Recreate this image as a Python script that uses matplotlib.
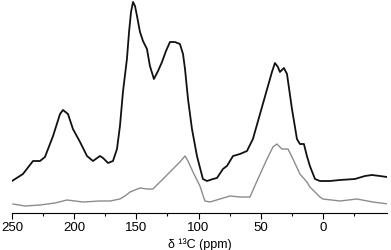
import numpy as np
import matplotlib
matplotlib.use("Agg")
import matplotlib.pyplot as plt

plt.rcParams['font.family'] = ['Liberation Sans', 'DejaVu Sans']

# chemical shift (ppm) and intensity (a.u.)
black_ppm = [250.0, 241.2, 233.1, 227.5, 223.5, 217.0, 211.4, 209.0, 205.0, 201.0,
             195.3, 189.7, 184.9, 179.3, 176.8, 172.8, 168.8, 165.6, 163.2, 160.8,
             157.6, 155.9, 154.3, 152.7, 151.1, 149.5, 147.1, 144.7, 141.5, 139.1,
             135.9, 132.6, 129.4,
             126.2, 123.0, 119.0, 115.0, 112.5, 110.9, 108.5, 105.3, 101.3, 96.5,
             93.2, 88.4, 85.2, 80.4, 77.2, 72.3, 66.7, 61.1, 56.3, 49.0,
             44.2, 41.0, 38.6, 36.2, 34.6, 31.4, 28.9, 24.9, 20.9, 18.5,
             15.3, 12.9, 10.5, 6.4, 2.4, -5.6, -13.7, -25.7, -33.8, -39.4,
             -45.8, -51.4]
black_int = [32, 39, 52, 52, 56, 77, 99, 103, 99, 84,
             71, 57, 52, 57, 55, 50, 52, 64, 87, 121,
             154, 181, 201, 211, 207, 197, 181, 172, 164, 147,
             134, 142, 151,
             162, 171, 171, 169, 159, 144, 114, 84, 57, 34,
             32, 34, 35, 44, 47, 57, 59, 62, 74, 106,
             127, 141, 150, 146, 141, 145, 139, 104, 74, 69,
             69, 57, 47, 34, 32, 32, 33, 34, 37, 38,
             37, 36]

gray_ppm = [249.2, 239.5, 227.5, 215.4, 205.8, 192.9, 179.3, 171.2, 163.2, 159.2,
            155.1, 147.1, 141.5, 136.7, 128.6, 120.6, 115.0, 110.9, 108.5, 104.5,
            98.9, 94.9, 90.8, 82.8, 74.8, 66.7, 58.7, 52.3, 45.0, 40.2,
            37.0, 33.0, 28.1, 24.1, 18.5, 12.9, 10.5, 2.4, 0.0, -13.7,
            -27.3, -40.2, -52.3]
gray_int = [9, 7, 8, 10, 13, 11, 12, 12, 14, 17,
            21, 25, 24, 24, 34, 44, 51, 57, 52, 41,
            27, 12, 11, 14, 17, 16, 16, 34, 54, 66,
            69, 64, 64, 54, 39, 31, 26, 16, 14, 12,
            14, 11, 9]

major_ticks = [250, 200, 150, 100, 50, 0]
minor_ticks = [225, 175, 125, 75, 25, -25]

fig = plt.figure(figsize=(3.91, 2.51), dpi=100)
ax = fig.add_axes([12 / 391, 1 - 214 / 251, 375 / 391, 214 / 251])

ax.plot(gray_ppm, gray_int, color='#8c8c8c', lw=1.0)
ax.plot(black_ppm, black_int, color='#111111', lw=1.3)

ax.set_xlim(250, -51.5)
ax.set_ylim(0, 214)
ax.set_xticks(major_ticks)
ax.set_xticks(minor_ticks, minor=True)
ax.tick_params(axis='x', which='major', length=4, width=0.8, labelsize=9.5, pad=1.5)
ax.tick_params(axis='x', which='minor', length=2.5, width=0.8)
ax.set_yticks([])
for side in ('left', 'right', 'top'):
    ax.spines[side].set_visible(False)
ax.spines['bottom'].set_linewidth(0.8)
ax.set_xlabel('δ ¹³C (ppm)', fontsize=9, labelpad=3)

fig.savefig('out.png', dpi=100)
plt.close(fig)
